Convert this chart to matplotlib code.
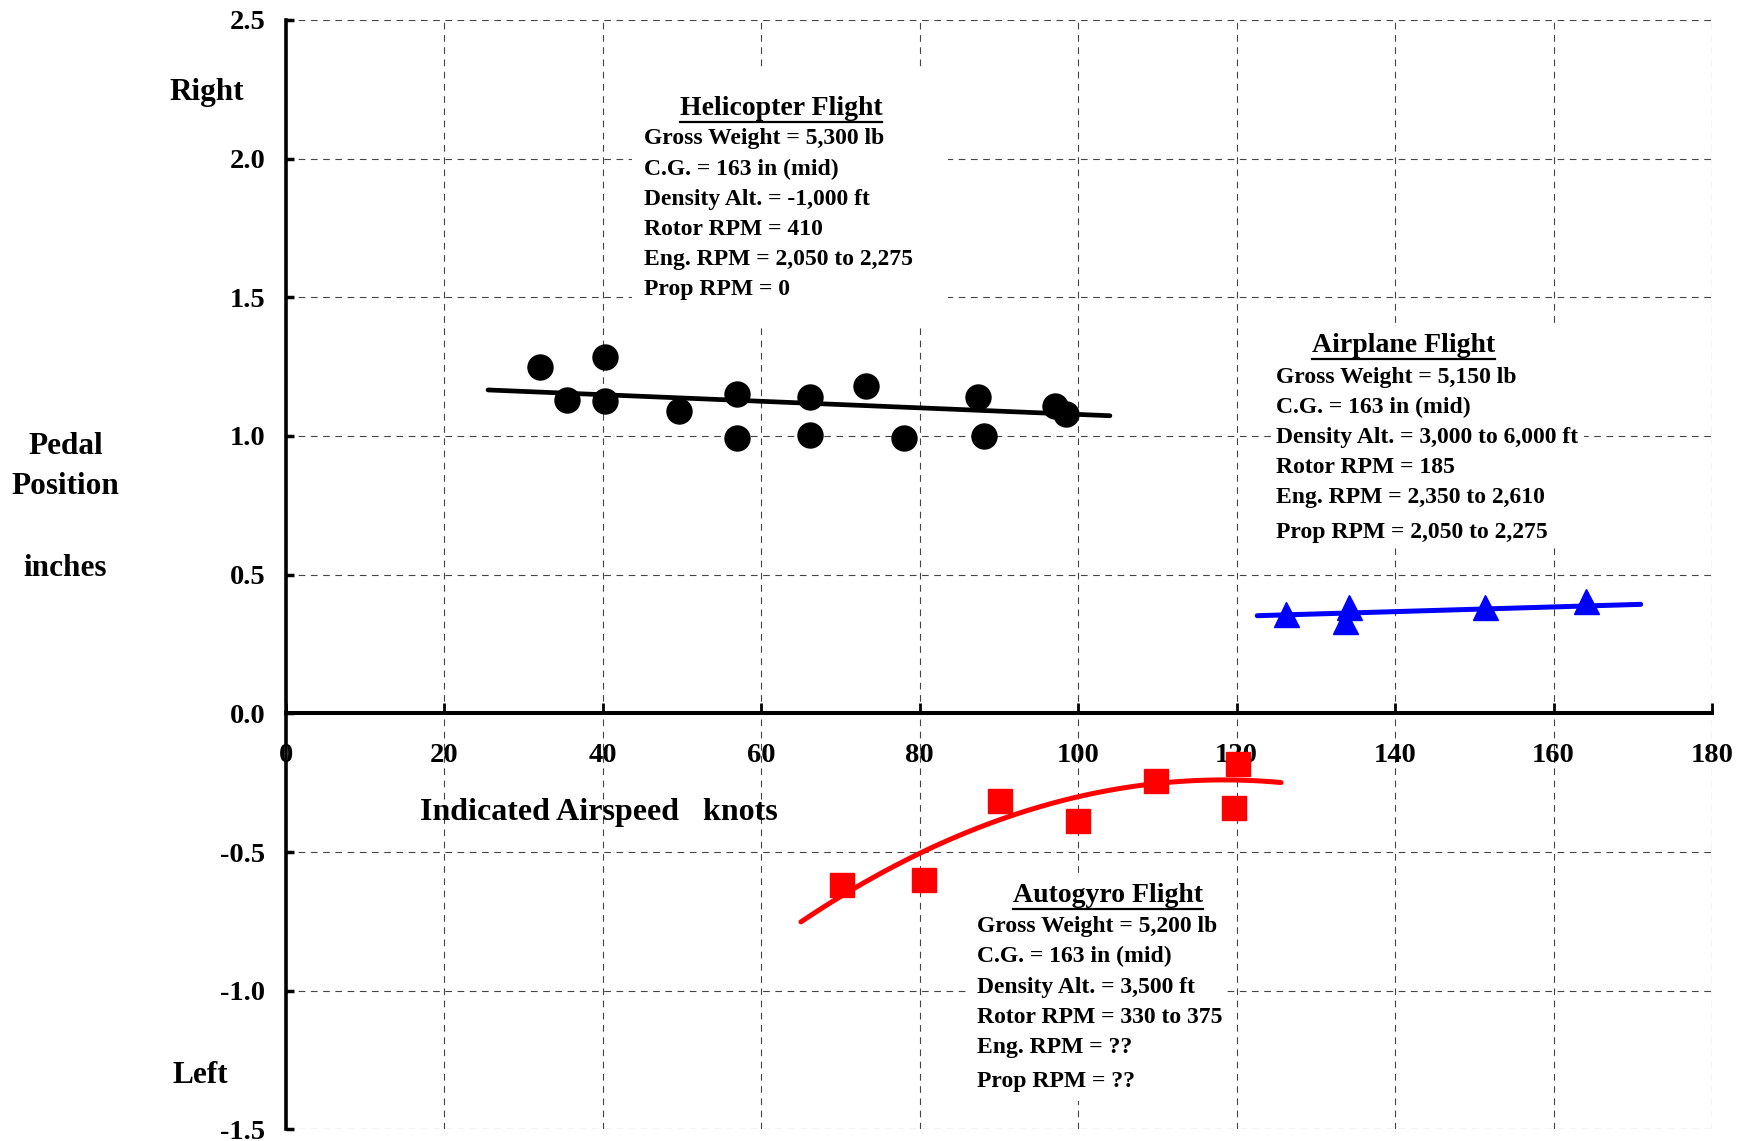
import numpy as np
import matplotlib
matplotlib.use("Agg")
from matplotlib import pyplot as plt
from matplotlib.patches import Rectangle
from matplotlib.lines import Line2D
from matplotlib.transforms import IdentityTransform

plt.rcParams['font.family'] = ['Liberation Serif', 'DejaVu Serif']
plt.rcParams['font.weight'] = 'bold'
plt.rcParams['axes.unicode_minus'] = False

# helicopter flight points (knots, inches)
heli_x = [32.0, 35.5, 40.3, 40.3, 49.6, 56.9, 56.9, 66.1, 66.1, 73.2, 78.0, 87.4, 88.1, 97.1, 98.4]
heli_y = [1.250, 1.131, 1.286, 1.125, 1.090, 1.153, 0.992, 1.141, 1.005, 1.179, 0.992, 1.141, 1.001, 1.108, 1.080]
heli_line_x = [25.5, 104.0]
heli_line_y = [1.166, 1.073]

# airplane flight
plane_x = [126.2, 134.2, 133.7, 151.3, 164.1]
plane_y = [0.358, 0.383, 0.333, 0.383, 0.406]
plane_line_x = [122.6, 171.0]
plane_line_y = [0.352, 0.393]

# autogyro flight
auto_x = [70.2, 80.5, 90.1, 100.0, 109.8, 120.2, 119.7]
auto_y = [-0.620, -0.600, -0.315, -0.387, -0.243, -0.183, -0.343]
auto_curve_x = [65.0, 80.0, 100.0, 110.0, 120.0, 125.6]
auto_curve_y = [-0.752, -0.504, -0.303, -0.251, -0.239, -0.251]

x_ticks = [0, 20, 40, 60, 80, 100, 120, 140, 160, 180]
y_ticks = [-1.5, -1.0, -0.5, 0.0, 0.5, 1.0, 1.5, 2.0, 2.5]

heli_title = "Helicopter Flight"
heli_lines = ["Gross Weight = 5,300 lb", "C.G. = 163 in (mid)", "Density Alt. = -1,000 ft",
              "Rotor RPM = 410", "Eng. RPM = 2,050 to 2,275", "Prop RPM = 0"]
plane_title = "Airplane Flight"
plane_lines = ["Gross Weight = 5,150 lb", "C.G. = 163 in (mid)", "Density Alt. = 3,000 to 6,000 ft",
               "Rotor RPM = 185", "Eng. RPM = 2,350 to 2,610", "Prop RPM = 2,050 to 2,275"]
auto_title = "Autogyro Flight"
auto_lines = ["Gross Weight = 5,200 lb", "C.G. = 163 in (mid)", "Density Alt. = 3,500 ft",
              "Rotor RPM = 330 to 375", "Eng. RPM = ??", "Prop RPM = ??"]

fig = plt.figure(figsize=(17.43, 11.41), dpi=100)
ax = fig.add_axes([0.1641, 0.0102, 0.8181, 0.9723])
ax.set_xlim(0, 180)
ax.set_ylim(-1.5, 2.5)
ax.set_xticks(x_ticks)
ax.set_yticks(y_ticks)
ax.set_xticklabels([str(v) for v in x_ticks])
ax.set_yticklabels(["%.1f" % v for v in y_ticks])

ax.spines['top'].set_visible(False)
ax.spines['right'].set_visible(False)
ax.spines['bottom'].set_position(('data', 0))
ax.spines['left'].set_linewidth(2.6)
ax.spines['bottom'].set_linewidth(2.9)
ax.tick_params(axis='x', direction='in', length=7, width=2, pad=21, labelsize=20.5)
ax.tick_params(axis='y', direction='in', length=6, width=2.5, pad=15, labelsize=20.5)
ax.set_axisbelow(True)
ax.grid(True, linestyle=(0, (6, 5)), color='#444444', linewidth=0.8)

# white areas behind the notes (hide grid)
ax.add_patch(Rectangle((43.7, 1.397), 39.9, 0.933, facecolor='white', edgecolor='none', zorder=1))
ax.add_patch(Rectangle((124.3, 0.604), 39.5, 0.804, facecolor='white', edgecolor='none', zorder=1))
ax.add_patch(Rectangle((86.3, -1.399), 31.9, 0.822, facecolor='white', edgecolor='none', zorder=1))

# series
ax.plot(heli_x, heli_y, 'o', color='black', markersize=18, zorder=3)
ax.plot(heli_line_x, heli_line_y, '-', color='black', lw=3.4, solid_capstyle='round', zorder=3)

ax.plot(plane_x, plane_y, '^', color='blue', markersize=18, zorder=3)
ax.plot(plane_line_x, plane_line_y, '-', color='blue', lw=3.6, solid_capstyle='round', zorder=3)

ax.plot(auto_x, auto_y, 's', color='red', markersize=17.5, zorder=3)
coef = np.polyfit(auto_curve_x, auto_curve_y, 2)
xs = np.linspace(auto_curve_x[0], auto_curve_x[-1], 120)
ax.plot(xs, np.polyval(coef, xs), '-', color='red', lw=3.6, solid_capstyle='round', zorder=3)

# notes
titles = []
def note(title, lines, tx, ty, lx, ly):
    dy = 0.008
    t = ax.text(tx, ty - dy, title, fontsize=20, ha='center', va='center', zorder=4)
    titles.append(t)
    for s, yy in zip(lines, ly):
        ax.text(lx, yy - dy, s, fontsize=17, ha='left', va='center', zorder=4)

note(heli_title, heli_lines, 62.5, 2.188, 45.15, [2.080, 1.968, 1.859, 1.751, 1.643, 1.535])
note(plane_title, plane_lines, 141.1, 1.334, 125.0, [1.218, 1.110, 1.002, 0.894, 0.786, 0.661])
note(auto_title, auto_lines, 103.8, -0.649, 87.2, [-0.761, -0.870, -0.982, -1.090, -1.198, -1.319])

ax.text(39.5, -0.356, "Indicated Airspeed   knots", fontsize=23, ha='center', va='center')

fig.text(0.1186, 0.919, "Right", fontsize=22.5, ha='center', va='center')
fig.text(0.0376, 0.609, "Pedal", fontsize=22.5, ha='center', va='center')
fig.text(0.0376, 0.574, "Position", fontsize=22.5, ha='center', va='center')
fig.text(0.0376, 0.502, "inches", fontsize=22.5, ha='center', va='center')
fig.text(0.1148, 0.057, "Left", fontsize=22.5, ha='center', va='center')

# underline the note titles
fig.canvas.draw()
r = fig.canvas.get_renderer()
for t in titles:
    bb = t.get_window_extent(r)
    fig.add_artist(Line2D([bb.x0, bb.x1], [bb.y0 - 1, bb.y0 - 1], color='black', lw=1.6,
                          transform=IdentityTransform()))

fig.savefig("out.png", dpi=100)
